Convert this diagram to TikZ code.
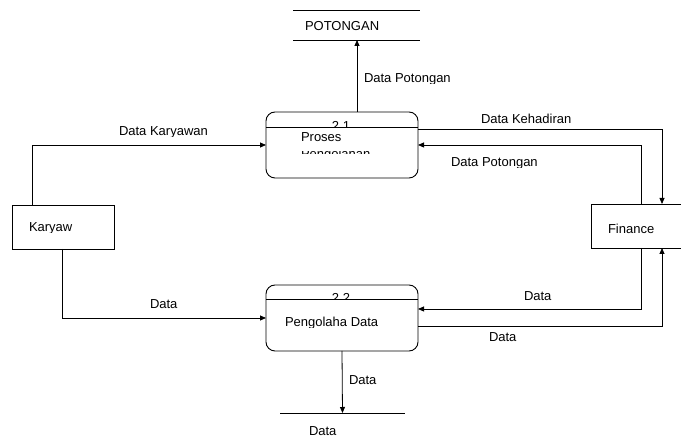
\documentclass[tikz,border=0pt]{standalone}
\usepackage{fontspec}
\setmainfont{Liberation Sans}
\usetikzlibrary{arrows.meta}
\newcommand\dfdlbl[4]{%
  \begin{scope}
    \clip (#2-3,#3-16) rectangle (#2+200,#3+0.4);
    \node[lbl,anchor=base west] (#1) at (#2,#3) {#4};
  \end{scope}}
\tikzset{
  lbl/.style={font=\fontsize{13}{15.6}\selectfont, inner sep=0pt, outer sep=0pt, text=black},
  proc/.style={draw=black, line width=0.9pt, rounded corners=9pt, inner sep=0pt, outer sep=0pt},
  ext/.style={draw=black, line width=0.9pt, inner sep=0pt, outer sep=0pt},
  flow/.style={draw=black, line width=0.8pt, -{Triangle[length=6pt,width=5pt]}},
  storeline/.style={draw=black, line width=0.8pt},
  divline/.style={draw=black, line width=0.8pt},
}
\begin{document}
\begin{tikzpicture}[x=1pt,y=-1pt]
\useasboundingbox (0,0) rectangle (681,443);

% processes
\node[proc, minimum width=152pt, minimum height=66pt] (p21) at (342,145) {};
\node[proc, minimum width=152pt, minimum height=66pt] (p22) at (342,318) {};
% external entities
\node[ext, minimum width=102pt, minimum height=44pt] (kar) at (63,227) {};
\node[ext, minimum width=98pt, minimum height=44pt] (fin) at (640,226) {};
% data stores
\node[minimum width=127pt, minimum height=30pt, inner sep=0pt, outer sep=0pt] (pot) at (356.5,25) {};
\node[minimum width=125pt, minimum height=30pt, inner sep=0pt, outer sep=0pt] (dst) at (342.5,428) {};
\draw[storeline] (pot.north west) -- (pot.north east);
\draw[storeline] (pot.south west) -- (pot.south east);
\draw[storeline] (dst.north west) -- (dst.north east);

% dividers
\coordinate (d1) at (0,127);
\coordinate (d2) at (0,299);
\draw[divline] (p21.west |- d1) -- (p21.east |- d1);
\draw[divline] (p22.west |- d2) -- (p22.east |- d2);

% process texts
\begin{scope}
  \clip (300,112) rectangle (380,126.6);
  \node[lbl, anchor=base] (t21) at (341,130.3) {2.1};
\end{scope}
\begin{scope}
  \clip (300,285) rectangle (380,298.6);
  \node[lbl, anchor=base] (t22) at (341,302.3) {2.2};
\end{scope}
\node[lbl, anchor=base west] (tpr) at (301,142) {Proses};
\begin{scope}
  \clip (299,151.8) rectangle (390,153.4);
  \node[lbl, anchor=base west] (tpg) at (301,158.6) {Pengolahan};
\end{scope}
\dfdlbl{tpd}{285}{327}{Pengolaha Data}

% entity texts
\dfdlbl{tkar}{29}{232}{Karyaw}
\dfdlbl{tfin}{608}{234}{Finance}
% store texts
\dfdlbl{tpot}{305}{31}{POTONGAN}
\dfdlbl{tdst}{309}{436}{Data}

% connectors
\coordinate (c0) at (357,0);
\draw[flow] (p21.north -| c0) -- (pot.south -| c0);
\coordinate (c1) at (32,145);
\draw[flow] (kar.north -| c1) |- (p21.west |- c1);
\coordinate (c2) at (62,318);
\draw[flow] (kar.south -| c2) |- (p22.west |- c2);
\coordinate (c3) at (662,129);
\draw[flow] (p21.east |- c3) -| (fin.north -| c3);
\coordinate (c4) at (641,145);
\draw[flow] (fin.north -| c4) |- (p21.east |- c4);
\coordinate (c5) at (641,309);
\draw[flow] (fin.south -| c5) |- (p22.east |- c5);
\coordinate (c6) at (662,326);
\draw[flow] (p22.east |- c6) -| (fin.south -| c6);
\draw[flow] (p22.south) -- (dst.north);

% flow labels
\dfdlbl{lpot}{364}{83}{Data Potongan}
\dfdlbl{lkar}{119}{136}{Data Karyawan}
\dfdlbl{lkeh}{481}{124}{Data Kehadiran}
\dfdlbl{lpot2}{451}{167}{Data Potongan}
\dfdlbl{ld1}{150}{309}{Data}
\dfdlbl{ld2}{524}{301}{Data}
\dfdlbl{ld3}{489}{342}{Data}
\dfdlbl{ld4}{349}{385}{Data}
\end{tikzpicture}
\end{document}
